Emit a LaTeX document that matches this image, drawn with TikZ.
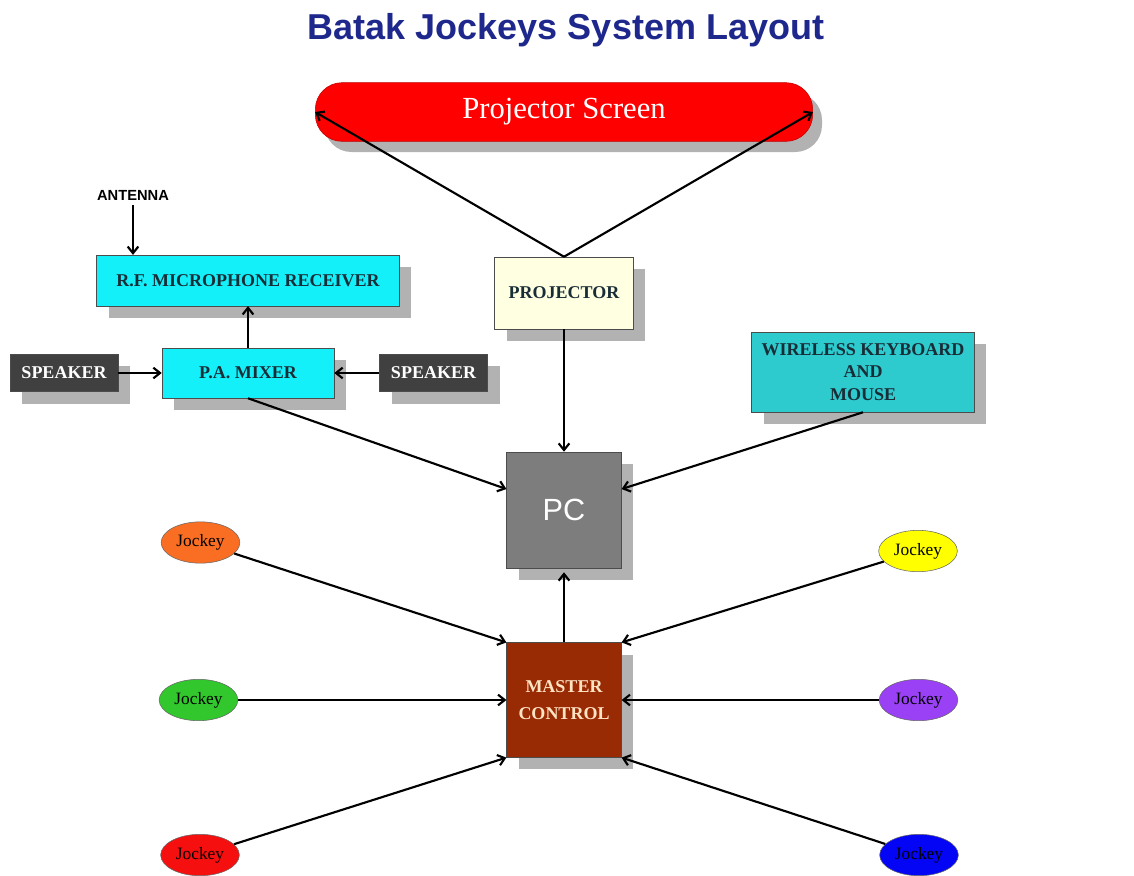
\documentclass[tikz,border=0pt]{standalone}
\usepackage{fontspec}
\setmainfont{Liberation Serif}
\setsansfont{Liberation Sans}
\usepackage{xcolor}
\usetikzlibrary{shapes, arrows, arrows.meta, positioning, calc, shadows}

\definecolor{titleblue}{RGB}{30,40,140}
\definecolor{shadowgray}{RGB}{178,178,178}
\definecolor{rfcyan}{RGB}{20,240,250}
\definecolor{spkgray}{RGB}{64,64,64}
\definecolor{projyellow}{RGB}{255,255,226}
\definecolor{kbdteal}{RGB}{45,202,206}
\definecolor{pcgray}{RGB}{125,125,125}
\definecolor{masterbrown}{RGB}{152,42,4}
\definecolor{mastertext}{RGB}{255,228,196}
\definecolor{boxtext}{RGB}{25,45,55}
\definecolor{jorange}{RGB}{250,110,35}
\definecolor{jyellow}{RGB}{255,255,0}
\definecolor{jgreen}{RGB}{50,200,45}
\definecolor{jpurple}{RGB}{155,65,245}
\definecolor{jred}{RGB}{245,15,15}
\definecolor{jblue}{RGB}{5,5,245}

\begin{document}
\begin{tikzpicture}[x=0.75pt, y=-0.75pt,
  >={Straight Barb[length=5pt, width=8pt]},
  shade/.style={drop shadow={shadow xshift=9pt, shadow yshift=-9pt, fill=shadowgray, opacity=1}},
  box/.style={rectangle, draw=black!70, thin, shade, text=boxtext, align=center, inner sep=2pt,
    font=\bfseries\fontsize{13.5}{17}\selectfont},
  jockey/.style={ellipse, draw=black!60, minimum width=59pt, minimum height=31pt, inner sep=0pt,
    font=\fontsize{13}{15}\selectfont},
  link/.style={->, line width=1.6pt}]
\useasboundingbox (0,0) rectangle (1134,875);

% title and screen
\node (title) at (566,30) [font=\sffamily\bfseries\fontsize{27}{30}\selectfont, text=titleblue] {Batak Jockeys System Layout};
\node (screen) at (564,112) [rectangle, rounded corners=20pt, fill=red, draw=red!75!black,
  minimum width=373pt, minimum height=44pt, text=white, font=\fontsize{23}{26}\selectfont,
  drop shadow={shadow xshift=7pt, shadow yshift=-8pt, fill=shadowgray, opacity=1}] {Projector Screen};

% audio side
\node (antenna) at (133,195) [font=\sffamily\bfseries\fontsize{11}{13}\selectfont] {ANTENNA};
\node (rf) at (248,280.5) [box, fill=rfcyan, minimum width=227pt, minimum height=38pt] {R.F. MICROPHONE RECEIVER};
\node (mixer) at (248,373) [box, fill=rfcyan, minimum width=129pt, minimum height=37.5pt] {P.A. MIXER};
\node (spkl) at (64,373) [box, fill=spkgray, text=white, minimum width=81pt, minimum height=28pt] {SPEAKER};
\node (spkr) at (433.5,373) [box, fill=spkgray, text=white, minimum width=81pt, minimum height=28pt] {SPEAKER};

% projector, keyboard, pc, master
\node (proj) at (564,293) [box, fill=projyellow, minimum width=104pt, minimum height=54pt] {PROJECTOR};
\node (kbd) at (863,372) [box, fill=kbdteal, minimum width=167pt, minimum height=60pt] {WIRELESS KEYBOARD\\AND\\MOUSE};
\node (pc) at (564,510) [box, fill=pcgray, text=white, minimum width=86pt, minimum height=87pt,
  font=\sffamily\fontsize{23}{26}\selectfont] {PC};
\node (master) at (564,700) [box, fill=masterbrown, text=mastertext, minimum width=86pt, minimum height=86pt,
  font=\bfseries\fontsize{13.5}{20}\selectfont] {MASTER\\CONTROL};

% jockeys
\node (jo) at (200.5,542.5) [jockey, fill=jorange] {Jockey};
\node (jg) at (198.5,700) [jockey, fill=jgreen] {Jockey};
\node (jr) at (200,855) [jockey, fill=jred] {Jockey};
\node (jy) at (918,551) [jockey, fill=jyellow] {Jockey};
\node (jp) at (918.5,700) [jockey, fill=jpurple] {Jockey};
\node (jb) at (919,855) [jockey, fill=jblue] {Jockey};

\draw [link] (antenna.south) -- (antenna.south |- rf.north);
\draw [link] (mixer.north) -- (rf.south);
\draw [link] (spkl) -- (mixer);
\draw [link] (spkr) -- (mixer);
\draw [link] (proj.north) -- (screen.west);
\draw [link] (proj.north) -- (screen.east);
\draw [link] (proj) -- (pc);
\draw [link] (mixer.south) -- (pc.160);
\draw [link] (kbd.south) -- (pc.20);
\draw [link, shorten >=3pt] (master) -- (pc);
\draw [link] (jo) -- (master.north west);
\draw [link] (jg) -- (master.west);
\draw [link] (jr) -- (master.south west);
\draw [link] (jy) -- (master.north east);
\draw [link] (jp) -- (master.east);
\draw [link] (jb) -- (master.south east);
\end{tikzpicture}
\end{document}
